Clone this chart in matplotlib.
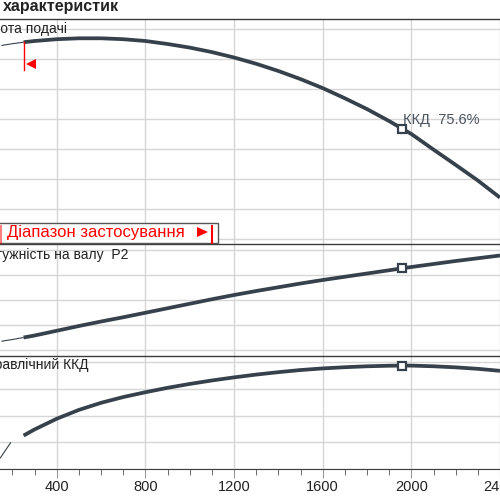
import numpy as np
import matplotlib.pyplot as plt
from matplotlib.patches import Rectangle, Polygon
from matplotlib.lines import Line2D

# Caudal (eje x) y curvas
q_altura = [150, 200, 250, 300, 400, 500, 600, 700, 800, 900, 1000, 1100, 1200, 1300,
            1400, 1500, 1600, 1700, 1800, 1900, 1960, 2000, 2100, 2200, 2300, 2400]
altura = [6.45, 6.51, 6.56, 6.60, 6.66, 6.69, 6.69, 6.66, 6.60, 6.50, 6.38, 6.23, 6.05, 5.84,
          5.60, 5.33, 5.03, 4.69, 4.33, 3.93, 3.67, 3.50, 2.98, 2.47, 1.95, 1.38]

q_p2 = [150, 200, 250, 300, 400, 500, 600, 700, 800, 900, 1000, 1100, 1200, 1300,
        1400, 1500, 1600, 1700, 1800, 1900, 1960, 2000, 2100, 2200, 2300, 2400]
potencia = [0.35, 0.42, 0.50, 0.58, 0.77, 0.96, 1.14, 1.31, 1.49, 1.67, 1.85, 2.03, 2.20, 2.36,
            2.51, 2.66, 2.80, 2.93, 3.06, 3.19, 3.27, 3.32, 3.44, 3.56, 3.67, 3.78]

q_kkd = [144, 193, 250, 300, 400, 500, 600, 700, 800, 900, 1000, 1100, 1200, 1300,
         1400, 1500, 1600, 1700, 1800, 1900, 1960, 2000, 2100, 2200, 2300, 2400]
kkd = [8, 20, 25, 29.6, 37.6, 44.2, 49.5, 53.8, 57.4, 60.7, 63.6, 66.2, 68.5, 70.6,
       72.4, 74.0, 75.2, 76.1, 76.8, 77.2, 77.3, 77.3, 76.8, 76.0, 74.9, 73.4]

q_trabajo = 1960
q_min = 250
x_ticks = [400, 800, 1200, 1600, 2000, 2400]

titulo = "характеристик"
etiqueta_h = "Висота подачі"
etiqueta_p2 = "Потужність на валу  P2"
etiqueta_kkd = "Гідравлічний ККД"
texto_kkd = "ККД  75.6%"
texto_rango = "Діапазон застосування"

color_linea = '#36414c'
color_grid = '#d6d6d6'
color_marco = '#3c3c3c'

plt.rcParams['font.family'] = ['Liberation Sans', 'DejaVu Sans']

fig = plt.figure(figsize=(5, 5), dpi=100)


def fy(y_px):
    # pixel vertical -> fraccion de figura
    return 1 - y_px / 500


ax_h = fig.add_axes([0, fy(244), 1, (244 - 19) / 500])
ax_p = fig.add_axes([0, fy(356), 1, (356 - 244) / 500])
ax_e = fig.add_axes([0, fy(469), 1, (469 - 356) / 500])

ax_h.set_ylim(-5 / 30, 7 + 10 / 30)
ax_h.set_yticks(range(8))
ax_p.set_ylim(-6 / 25, 4 + 6 / 25)
ax_p.set_yticks(range(5))
ax_e.set_ylim(0, 80 + 6 / 26.75 * 20)
ax_e.set_yticks([0, 20, 40, 60, 80])

for ax in (ax_h, ax_p, ax_e):
    ax.set_xlim(143.7, 2372)
    ax.set_xticks(x_ticks)
    ax.grid(True, color=color_grid, lw=1)
    ax.set_axisbelow(True)
    for lado in ('left', 'right', 'bottom'):
        ax.spines[lado].set_visible(False)
    ax.spines['top'].set_color(color_marco)
    ax.spines['top'].set_linewidth(1)
    ax.tick_params(length=0, labelleft=False, labelbottom=False)

# eje x inferior
ax_e.spines['bottom'].set_visible(True)
ax_e.spines['bottom'].set_color(color_marco)
ax_e.set_xticks(np.arange(200, 2400, 100), minor=True)
ax_e.tick_params(axis='x', which='major', length=6.5, color='#9a9a9a', labelbottom=True,
                 labelsize=10.5, pad=1.5, labelcolor='#222222')
ax_e.tick_params(axis='x', which='minor', length=4.5, color='#555555')


def curva(ax, q, v, fin_fino=q_min):
    q = np.array(q)
    v = np.array(v)
    ax.plot(q[q <= fin_fino], v[q <= fin_fino], color=color_linea, lw=0.8, solid_capstyle='butt')
    ax.plot(q[q >= q_min], v[q >= q_min], color=color_linea, lw=2.7,
            solid_capstyle='butt', solid_joinstyle='round')
    ax.plot(q_trabajo, np.interp(q_trabajo, q, v), marker='s', ms=6, mfc='white',
            mec=color_linea, mew=1.6, zorder=5)


curva(ax_h, q_altura, altura)
curva(ax_p, q_p2, potencia)
curva(ax_e, q_kkd, kkd, fin_fino=200)

# limite izquierdo del rango de aplicacion
h_min = np.interp(q_min, q_altura, altura)
ax_h.plot([q_min, q_min], [h_min, 5.63], color='red', lw=1)
ax_h.plot(282, 5.82, marker='<', ms=7, color='red', mew=0)

ax_h.text(q_trabajo + 2, np.interp(q_trabajo, q_altura, altura) + 0.17, texto_kkd,
          fontsize=10.5, color='#4a5460', va='baseline')

# textos de los paneles
fig.text(3 / 500, fy(11), titulo, fontsize=11.5, fontweight='bold', color='#222222', va='baseline')
fig.text(67 / 500, fy(33), etiqueta_h, fontsize=10, color='#222222', ha='right', va='baseline')
fig.text(128 / 500, fy(259), etiqueta_p2, fontsize=10, color='#222222', ha='right', va='baseline')
fig.text(88 / 500, fy(369), etiqueta_kkd, fontsize=10, color='#222222', ha='right', va='baseline')

# caja "Diapazon zastosuvannia"
caja = Rectangle((-5 / 500, fy(243)), 223 / 500, 20 / 500, transform=fig.transFigure,
                 facecolor='white', edgecolor='#555555', lw=1, zorder=5)
fig.add_artist(caja)
fig.text(7 / 500, fy(237.5), texto_rango, fontsize=12, color='red', va='baseline', zorder=6)
tri = Polygon([(197 / 500, fy(227)), (197 / 500, fy(237)), (208 / 500, fy(232))],
              closed=True, transform=fig.transFigure, facecolor='red', edgecolor='none', zorder=6)
fig.add_artist(tri)
fig.add_artist(Line2D([212 / 500, 212 / 500], [fy(226), fy(243)], transform=fig.transFigure,
                      color='red', lw=1.5, zorder=6))
fig.add_artist(Line2D([0.5 / 500, 0.5 / 500], [fy(226), fy(243)], transform=fig.transFigure,
                      color='red', lw=1.5, zorder=6, alpha=0.5))

fig.savefig('out.png', dpi=100)
